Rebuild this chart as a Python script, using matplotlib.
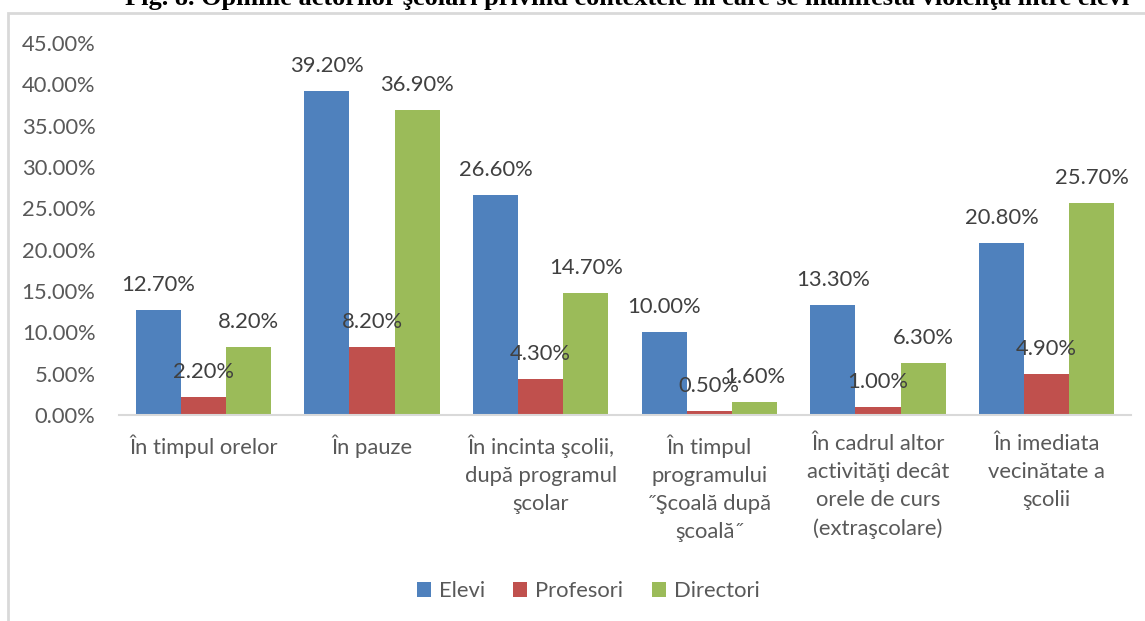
import matplotlib.pyplot as plt
import numpy as np
from matplotlib.patches import Rectangle

# date
categories = ['În timpul orelor',
              'În pauze',
              'În incinta şcolii,\ndupă programul\nşcolar',
              'În timpul\nprogramului\n˝Şcoală după\nşcoală˝',
              'În cadrul altor\nactivităţi decât\norele de curs\n(extraşcolare)',
              'În imediata\nvecinătate a\nşcolii']
elevi = [12.7, 39.2, 26.6, 10.0, 13.3, 20.8]
profesori = [2.2, 8.2, 4.3, 0.5, 1.0, 4.9]
directori = [8.2, 36.9, 14.7, 1.6, 6.3, 25.7]
series_names = ['Elevi', 'Profesori', 'Directori']
colors = ['#4F81BD', '#C0504D', '#9BBB59']
title = ('Fig. 8. Opiniile actorilor şcolari privind contextele '
         'în care se manifestă violenţa între elevi')

W, H = 1145, 621
plt.rcParams['font.family'] = ['Lato', 'DejaVu Sans']
txt_color = '#595959'
fs = 15.8

fig = plt.figure(figsize=(W / 100, H / 100), dpi=100)
# zona graficului in pixeli: x 119..1131, y 43..415
ax = fig.add_axes([119 / W, 1 - 415 / H, (1131 - 119) / W, (415 - 43) / H])

x = np.arange(len(categories))
bw = 0.267
for i, (vals, name) in enumerate(zip([elevi, profesori, directori], series_names)):
    pos = x + (i - 1) * bw
    ax.bar(pos, vals, width=bw, color=colors[i], label=name, zorder=2)
    for p, v in zip(pos, vals):
        ax.annotate(f'{v:.2f}%', (p, v), xytext=(0, 18), textcoords='offset points',
                    ha='center', va='center', fontsize=fs, color='#404040', zorder=3)

ax.set_xlim(-0.5, len(categories) - 0.5)
ax.set_ylim(0, 45)
ax.set_yticks(np.arange(0, 46, 5))
ax.set_yticklabels([f'{t:.2f}%' for t in np.arange(0, 46, 5)])
ax.set_xticks(x)
ax.set_xticklabels(categories, linespacing=1.5)
ax.tick_params(axis='both', length=0, labelsize=fs, colors=txt_color)
ax.tick_params(axis='y', pad=17)
ax.tick_params(axis='x', pad=14)
for s in ['top', 'right', 'left']:
    ax.spines[s].set_visible(False)
ax.spines['bottom'].set_color('#d9d9d9')
ax.spines['bottom'].set_linewidth(1.5)
ax.set_facecolor('none')

leg = fig.legend(loc='center', bbox_to_anchor=(588 / W, 1 - 591 / H), ncol=3,
                 frameon=False, fontsize=fs, handlelength=0.65, handleheight=0.65,
                 handletextpad=0.35, columnspacing=1.3)
for t in leg.get_texts():
    t.set_color(txt_color)

# chenarul graficului
fig.patches.append(Rectangle((8 / W, -0.1), 1.2, 1 - 13 / H + 0.1, transform=fig.transFigure,
                             fill=False, edgecolor='#d9d9d9', linewidth=2, zorder=0))

fig.text(627 / W, 1 + 2 / H, title, ha='center', va='center', fontsize=19,
         fontweight='bold', family=['Liberation Serif', 'DejaVu Serif'], color='black')

plt.savefig('out.png', dpi=100)
